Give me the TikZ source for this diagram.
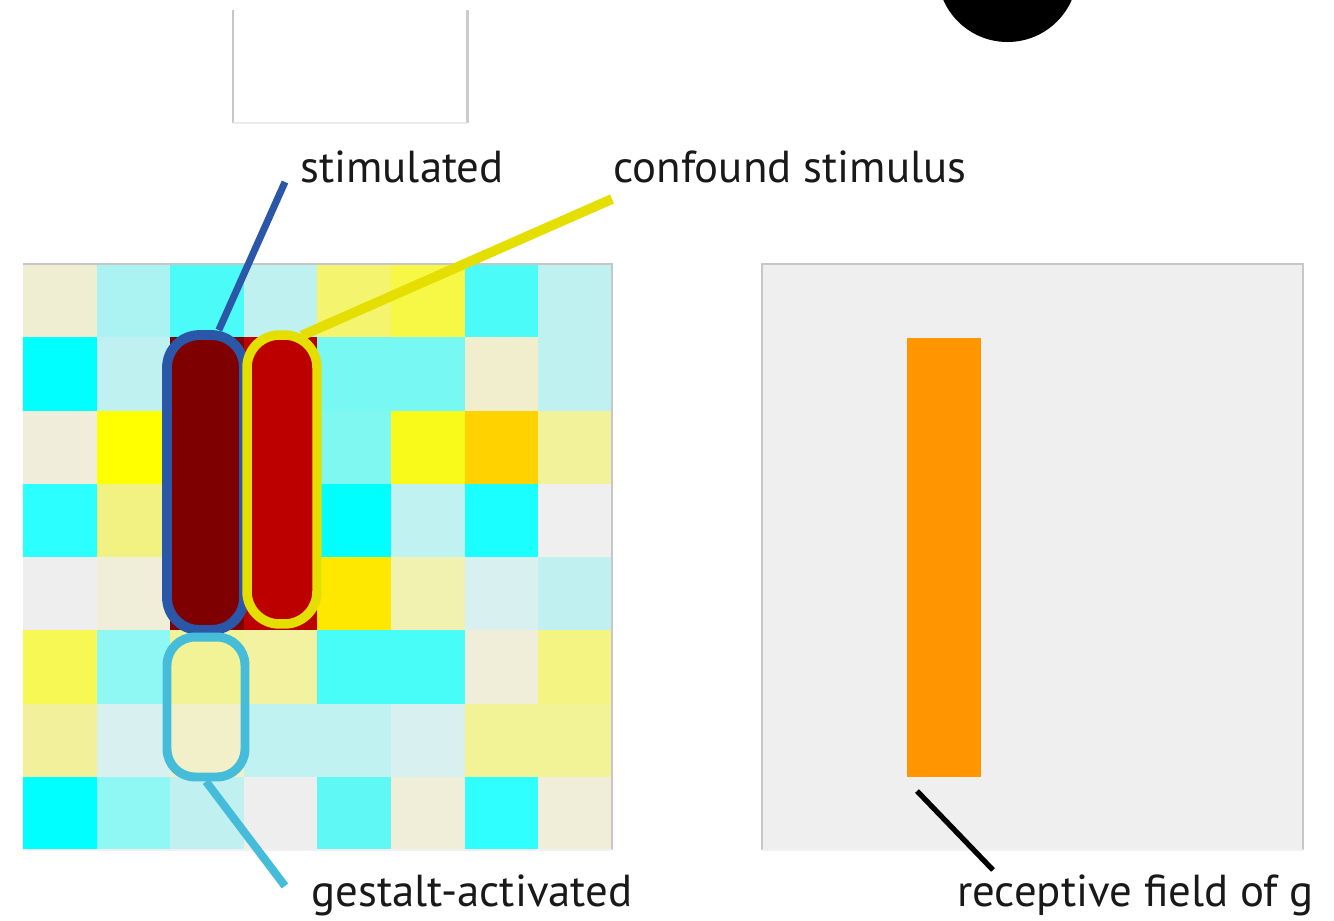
\documentclass[tikz,border=0pt]{standalone}
\usepackage{fontspec}
\usetikzlibrary{calc}
\setmainfont{PT Sans}
\begin{document}
\begin{tikzpicture}[x=0.02cm,y=-0.02cm,
  lab/.style={anchor=base west,inner sep=0pt,text=black!90,
    font=\fontsize{25.5pt}{30pt}\selectfont},
  capsule/.style={rectangle,inner sep=0pt,rounded corners=18.5pt},
  lead/.style={line width=#1,line cap=butt},
  edge/.style={draw=black!22,line width=1.1pt}]
\definecolor{stimblue}{HTML}{2A57A8}
\definecolor{confyel}{HTML}{E4DF00}
\definecolor{gestblue}{HTML}{45BDDA}
\definecolor{darkred}{HTML}{7F0000}
\definecolor{brightred}{HTML}{BC0000}
\definecolor{panelgray}{HTML}{EFEFEF}
\definecolor{rforange}{HTML}{FF9500}

\useasboundingbox (0,0) rectangle (1334,920);
\clip (0,0) rectangle (1334,920);
\fill[white] (0,0) rectangle (1334,920);

% empty frame at the top left
\fill[white] (233,10) rectangle (467,123);
\draw[draw=black!22,line width=1.1pt] (233,10) -- (233,123);
\draw[draw=black!20,line width=1.7pt] (467,10) -- (467,123);
\draw[draw=black!8,line width=0.6pt] (233,123) -- (467,123);

% black disc at the top right
\fill[black] (1007.5,-28) circle[radius=70];

% 8x8 activity grid
\foreach \row [count=\r from 0] in {
  {F0EED2,ABF3F3,4BFBF8,C0F1F1,F4F46E,F7F745,4BFBF8,C0F1F1},
  {00FFFF,C0F1F1,7F0000,BC0000,78F8F2,78F8F2,F0EECC,C0F1F1},
  {F0EEDA,FFFF00,7F0000,BC0000,80F8F2,FAFA1A,FFD200,F2F29A},
  {2BFFFF,F2F282,7F0000,BC0000,00FFFF,C0F2F2,1AFFFF,EFEFEF},
  {EEEEEE,F0EED8,7F0000,BC0000,FFE800,F2F2B0,D8F0F0,C0F0F0},
  {F8F855,90F8F4,F2F296,F2F2A0,48FCF8,48FCF8,F0EED8,F4F482},
  {F2F09A,D8F0F0,F2F0C8,C0F2F2,C0F2F2,D8F0F0,F2F296,F2F296},
  {00FFFF,90F8F4,C0F0F0,EEEEEE,60F8F4,F0EED8,30FFFF,F0EED8}}{
  \foreach \hex [count=\c from 0] in \row {
    \definecolor{cellc}{HTML}{\hex}
    \fill[cellc] ({23+73.6*\c},{264+73.25*\r}) rectangle ++(74.1,73.75);
  }
}
\draw[edge] (23,264) -- (612,264) -- (612,850);
\draw[draw=black!6,line width=0.6pt] (23,850) -- (612,850);

% highlighted regions of the grid
\node[capsule,draw=stimblue,fill=darkred,line width=5.6pt,
  minimum width=1.54cm,minimum height=5.9cm] (stim) at (205.5,482.5) {};
\node[capsule,draw=confyel,fill=brightred,line width=5.4pt,
  minimum width=1.40cm,minimum height=5.78cm] (conf) at (282,479.5) {};
\node[capsule,draw=gestblue,line width=5.1pt,rounded corners=16pt,
  minimum width=1.56cm,minimum height=2.8cm] (gest) at (206,707) {};

% right panel with the receptive field
\fill[panelgray] (762,264) rectangle (1303,850);
\draw[edge] (762,850) -- (762,264) -- (1303,264) -- (1303,850);
\draw[draw=black!6,line width=0.6pt] (762,850) -- (1303,850);
\node[rectangle,fill=rforange,inner sep=0pt,
  minimum width=1.48cm,minimum height=8.78cm] (rf) at (944,557.5) {};

% labels
\node[lab] (tstim) at (300,182) {stimulated};
\node[lab] (tconf) at (613,182) {confound stimulus};
\node[lab] (tgest) at (311,906) {gestalt-activated};
\node[lab] (trf) at (957,906) {receptive field of g};

% leader lines (the yellow one starts on the rounded corner)
\coordinate (stimend) at (285,182);
\coordinate (confend) at (612,199);
\coordinate (gestend) at (285,886);
\coordinate (rfstart) at (917,791);
\coordinate (rfend) at (993,870);
\draw[stimblue,lead=4pt] (stim.85.5) -- (stimend);
\draw[confyel,lead=5.6pt] ($(conf.78)!-0.04!(confend)$) -- (confend);
\draw[gestblue,lead=4.6pt] (gest.south) -- (gestend);
\draw[black,lead=3pt] (rfstart) -- (rfend);
\end{tikzpicture}
\end{document}
